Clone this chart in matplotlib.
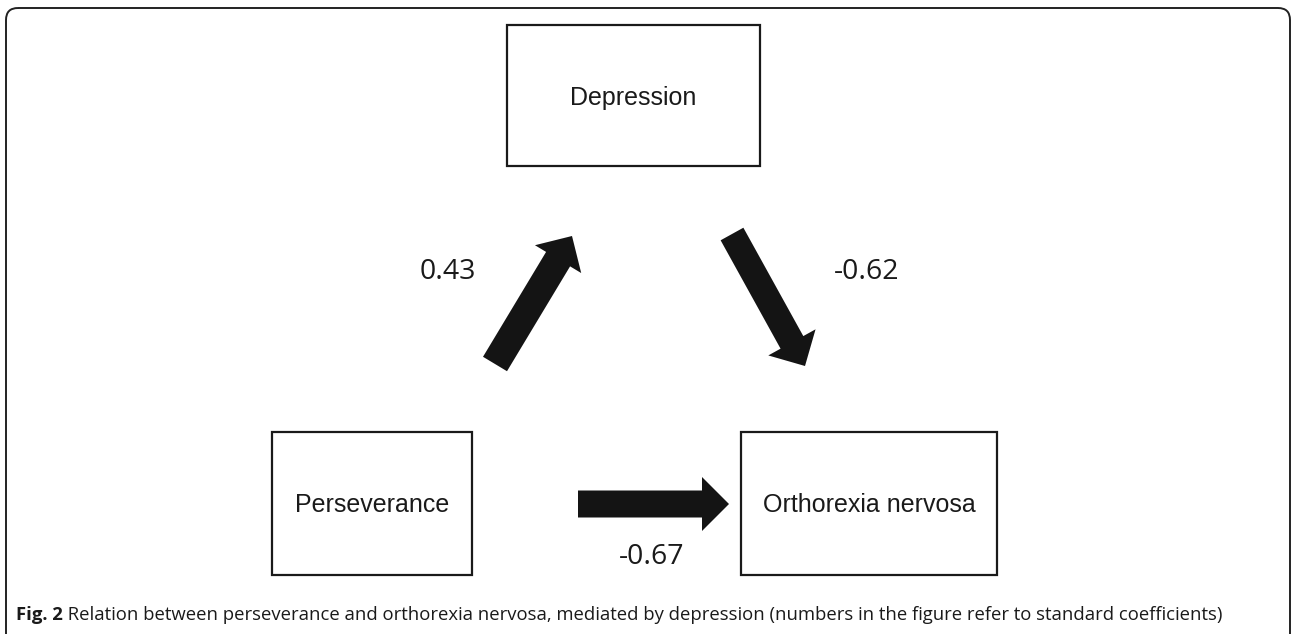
import matplotlib.pyplot as plt
from matplotlib.patches import Rectangle, FancyArrow, FancyBboxPatch

# path model: nodes and standardized coefficients
nodes = ['Depression', 'Perseverance', 'Orthorexia nervosa']
coef_labels = ['0.43', '-0.62', '-0.67']
caption_bold = 'Fig. 2'
caption_rest = (' Relation between perseverance and orthorexia nervosa, mediated by '
                'depression (numbers in the figure refer to standard coefficients)')

W, H = 1292, 634
fig = plt.figure(figsize=(W / 100, H / 100), dpi=100)
ax = fig.add_axes([0, 0, 1, 1])
ax.set_xlim(0, W)
ax.set_ylim(H, 0)
ax.axis('off')

# outer frame (rounded, bottom runs off the image)
frame = FancyBboxPatch((6, 8), 1284, 640, boxstyle='round,pad=0,rounding_size=12',
                       fill=False, ec='#222222', lw=1.4)
ax.add_patch(frame)

# boxes: x0, y0, x1, y1
boxes = [(507, 25, 760, 166), (272, 432, 472, 575), (741, 432, 997, 575)]
for name, (x0, y0, x1, y1) in zip(nodes, boxes):
    ax.add_patch(Rectangle((x0, y0), x1 - x0, y1 - y0, fill=False, ec='#1a1a1a', lw=1.6))
    ax.text((x0 + x1) / 2, (y0 + y1) / 2 + 2, name, ha='center', va='center',
            fontsize=18, family='Liberation Sans', color='#1a1a1a')

# arrows: tail -> tip
arrows = [((495, 364), (572, 236), 28),
          ((732, 234), (805, 366), 26),
          ((578, 504), (729, 504), 27)]
for (x0, y0), (x1, y1), w in arrows:
    ax.add_patch(FancyArrow(x0, y0, x1 - x0, y1 - y0, width=w, head_width=54,
                            head_length=27, length_includes_head=True,
                            fc='#141414', ec='none'))

label_pos = [(448, 272), (867, 272), (652, 557)]
for lab, (x, y) in zip(coef_labels, label_pos):
    ax.text(x, y, lab, ha='center', va='center', fontsize=20.5, family='Open Sans',
            color='#1a1a1a')

# caption: bold "Fig. 2" followed by regular text
t = ax.text(16, 615, caption_bold, ha='left', va='center', fontsize=13.3,
            family='Open Sans', fontweight='bold', color='#1a1a1a')
fig.canvas.draw()
bb = t.get_window_extent()
x_end = ax.transData.inverted().transform((bb.x1, bb.y0))[0]
ax.text(x_end, 615, caption_rest, ha='left', va='center', fontsize=13.3,
        family='Open Sans', color='#1a1a1a')

fig.savefig('out.png', dpi=100)
